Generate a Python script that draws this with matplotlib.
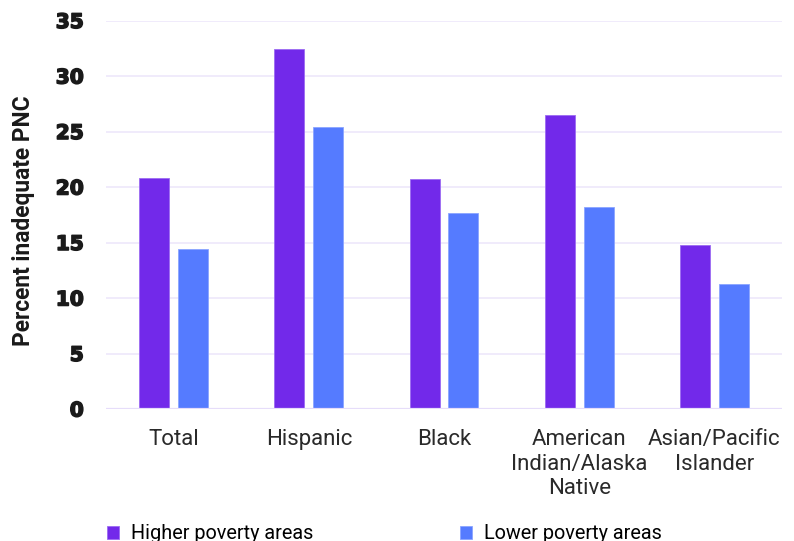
import matplotlib.pyplot as plt
import matplotlib.patheffects as pe
import numpy as np

# values
groups = ["Total", "Hispanic", "Black", "American\nIndian/Alaska\nNative", "Asian/Pacific\nIslander"]
higher_poverty = [20.8, 32.4, 20.7, 26.5, 14.8]
lower_poverty = [14.4, 25.4, 17.7, 18.2, 11.3]
yticks = [0, 5, 10, 15, 20, 25, 30, 35]

purple = "#7229EA"
blue = "#557BFF"
grid_col = "#EEE8FB"

fig = plt.figure(figsize=(7.94, 5.41), dpi=100)
ax = fig.add_axes([0.1335, 0.244, 0.8515, 0.718])

x = np.arange(len(groups))
w = 0.222
off = 0.143
ax.bar(x - off, higher_poverty, w, color=purple, edgecolor="#9C6BF2", linewidth=0.6,
       label="Higher poverty areas", zorder=3)
ax.bar(x + off, lower_poverty, w, color=blue, edgecolor="#8BA5FF", linewidth=0.6,
       label="Lower poverty areas", zorder=3)

ax.set_xlim(-0.5, 4.5)
ax.set_ylim(0, 35)
ax.set_yticks(yticks)
ax.set_yticklabels([str(v) for v in yticks], fontfamily="DejaVu Sans",
                   fontweight="bold", fontsize=14.5, color="#1a1a1a")
for t in ax.get_yticklabels():
    t.set_path_effects([pe.withStroke(linewidth=1.1, foreground="#1a1a1a")])
ax.set_xticks(x)
ax.set_xticklabels(groups, fontfamily="Roboto", fontsize=16, color="#2a2a2a",
                   linespacing=1.22)
ax.tick_params(axis="y", length=0, pad=16)
ax.tick_params(axis="x", length=0, pad=14.5)
for s in ax.spines.values():
    s.set_visible(False)
ax.yaxis.grid(True, color=grid_col, linewidth=1.2, zorder=0)
ax.axhline(0, color="#E6DDFA", linewidth=1.6, zorder=4)

ax.set_ylabel("Percent inadequate PNC", fontfamily="Roboto", fontweight="bold",
              fontsize=16.4, color="#1a1a1a")
ax.yaxis.label.set_va("center")
ax.yaxis.set_label_coords(-0.1213, 0.484)

fig.legend(loc="center left", bbox_to_anchor=(0.1348, 0.013), ncol=2, frameon=False,
           prop={"family": "Roboto", "size": 14.3}, handlelength=0.6, handleheight=0.6,
           handletextpad=0.6, columnspacing=7.4, borderpad=0, borderaxespad=0)

fig.savefig("out.png", dpi=100)
